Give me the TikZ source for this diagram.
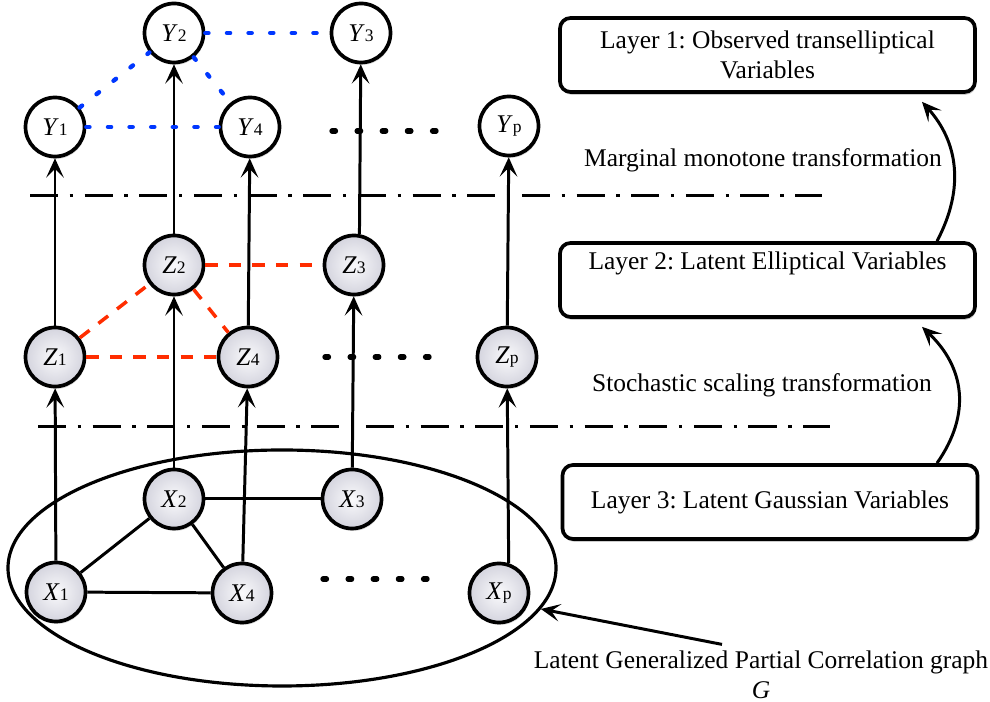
\documentclass[tikz,border=0pt]{standalone}
\usepackage{fontspec}
\setmainfont{Liberation Serif}
\usepackage{tikz}
\usepackage{xcolor}
\usetikzlibrary{arrows.meta,shapes.geometric,shadows}

\definecolor{nodein}{RGB}{250,250,252}
\definecolor{nodeout}{RGB}{212,212,222}
\definecolor{ydot}{RGB}{0,55,255}
\definecolor{zdash}{RGB}{255,45,0}

\newcommand{\vlab}[2]{\textit{#1}{\fontsize{10}{10}\selectfont #2}}
\frenchspacing

\begin{document}
\begin{tikzpicture}[
  font=\fontsize{14.5}{17}\selectfont,
  obsnode/.style={circle, draw, line width=2.1pt, minimum size=1.18cm, inner sep=0pt, fill=white,
    drop shadow={opacity=0.3, shadow xshift=0.6pt, shadow yshift=-1.4pt}},
  latnode/.style={obsnode, shading=radial, inner color=nodein, outer color=nodeout},
  layerbox/.style={draw, rounded corners=6pt, line width=2.1pt, minimum width=8.3cm, minimum height=1.48cm,
    fill=white, align=center, drop shadow={opacity=0.4, shadow xshift=0.6pt, shadow yshift=-1.6pt}},
  arr/.style={line width=1.7pt, -{Stealth[length=11pt, width=10pt, inset=5pt]}},
  layersep/.style={line width=1.7pt, dash pattern=on 16pt off 6.6pt on 1.9pt off 6.6pt},
  etc/.style={line width=3pt, line cap=round, dash pattern=on 2pt off 12.3pt},
  ydep/.style={ydot, line width=2.5pt, line cap=round, dash pattern=on 1.8pt off 10.5pt},
  zdep/.style={zdash, line width=2pt, dash pattern=on 7pt off 6.4pt},
  xdep/.style={line width=1.7pt}
]
\useasboundingbox (0,0) rectangle (19.8,14.04);

% layer 1: observed
\foreach \i/\x/\y in {1/1.10/11.50, 2/3.48/13.38, 3/7.22/13.38, 4/5.00/11.50, p/10.18/11.52}
  \node[obsnode] (Y\i) at (\x,\y) {\vlab{Y}{\i}};

% layer 2: latent elliptical
\foreach \i/\x/\y in {1/1.10/6.90, 2/3.48/8.74, 3/7.08/8.74, 4/4.96/6.90, p/10.14/6.90}
  \node[latnode] (Z\i) at (\x,\y) {\vlab{Z}{\i}};

% layer 3: latent gaussian
\foreach \i/\x/\y in {1/1.12/2.20, 2/3.48/4.06, 3/7.04/4.06, 4/4.84/2.18, p/9.98/2.18}
  \node[latnode] (X\i) at (\x,\y) {\vlab{X}{\i}};

% separators
\draw[layersep] (0.60,10.12) -- (16.44,10.12);
\draw[layersep] (0.76,5.50) -- (16.60,5.50);

% transformations
\foreach \i in {1,2,3,4}
  \draw[arr] (X\i) -- (Z\i);
\draw[arr] (Xp.72) -- (Zp);
\foreach \i in {1,2,4}
  \draw[arr] (Z\i) -- (Y\i);
\draw[arr] (Z3.80) -- (Y3);
\draw[arr] (Zp) -- (Yp);

% dependencies
\foreach \a/\b in {1/2, 2/3, 2/4, 1/4} {
  \draw[ydep] (Y\a) -- (Y\b);
  \draw[zdep] (Z\a) -- (Z\b);
  \draw[xdep] (X\a) -- (X\b);
}

% more variables
\draw[etc] (6.64,11.42) -- (8.90,11.42);
\draw[etc] (6.50,6.90) -- (8.76,6.90);
\draw[etc] (6.46,2.46) -- (8.70,2.46);

% graph G
\node[draw, ellipse, line width=1.8pt, minimum width=10.96cm, minimum height=4.72cm, inner sep=0pt] (graphG) at (5.64,2.68) {};

% layer boxes
\node[layerbox] (lay1) at (15.35,12.94) {Layer 1: Observed transelliptical\\Variables};
\node[layerbox] (lay2) at (15.35,8.44) {Layer 2: Latent Elliptical Variables\\\strut};
\node[layerbox] (lay3) at (15.40,4.00) {Layer 3: Latent Gaussian Variables};

\node (mmt) at (15.26,10.84) {Marginal monotone transformation};
\node (sst) at (15.24,6.34) {Stochastic scaling transformation};
\node[align=center] (gtext) at (15.22,0.55) {Latent Generalized Partial Correlation graph\\\textit{G}};

\draw[arr] ([xshift=3.39cm]lay2.north) .. controls +(0.56,1.06) and +(0.72,-0.80) .. ([xshift=3.09cm,yshift=-0.16cm]lay1.south);
\draw[arr] ([xshift=3.34cm]lay3.north) .. controls +(0.70,1.00) and +(0.84,-0.80) .. ([xshift=3.09cm,yshift=-0.16cm]lay2.south);
\draw[arr] ([xshift=-0.78cm]gtext.north) -- (graphG.-9);

\end{tikzpicture}
\end{document}
